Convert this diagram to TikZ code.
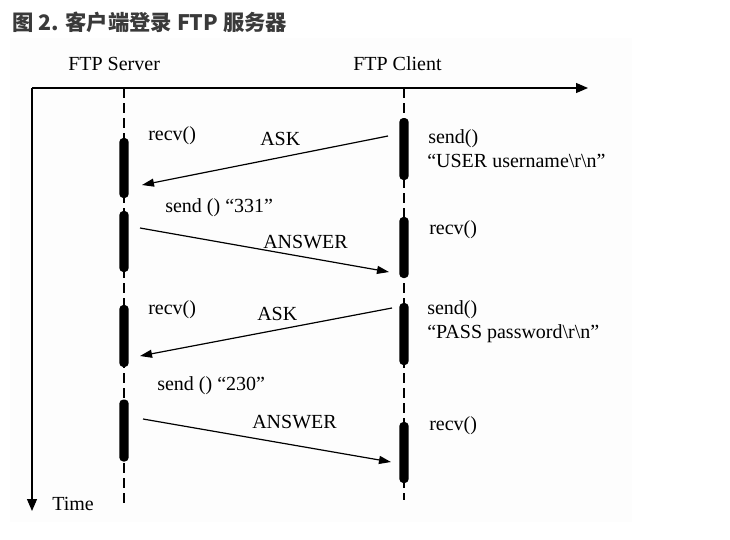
\documentclass[tikz,border=0pt]{standalone}
\usepackage{fontspec}
\setmainfont{Liberation Serif}
\newfontfamily\cjkfont{Noto Sans CJK SC}
\usetikzlibrary{arrows.meta}
\definecolor{titlegray}{RGB}{58,58,58}
\definecolor{panel}{RGB}{253,253,253}
\begin{document}
\begin{tikzpicture}[x=0.75pt,y=-0.75pt,
  lbl/.style={anchor=base west,inner sep=0pt,font=\fontsize{15}{17}\selectfont},
  bar/.style={fill=black,rounded corners=3pt,minimum width=7pt,inner sep=0pt,draw=none},
  life/.style={line width=1.1pt,dash pattern=on 7.5pt off 3.75pt},
  axis/.style={line width=0.9pt,-{Triangle[length=9pt,width=7.5pt]}},
  msg/.style={line width=0.9pt,-{Triangle[length=9pt,width=6pt]}}]
\useasboundingbox (0,0) rectangle (730,539);
\fill[panel] (10,38) rectangle (632,522);
% title
\node[anchor=base west,inner sep=0pt,text=titlegray,font=\cjkfont\bfseries\fontsize{16}{18}\selectfont] (title) at (12,30) {图 2. 客户端登录 FTP 服务器};
% headers
\node[lbl] (hs) at (68,70) {FTP Server};
\node[lbl] (hc) at (353,70) {FTP Client};
% axes
\coordinate (o) at (32,88);
\coordinate (xe) at (588,88);
\coordinate (ye) at (32,511);
\draw[axis] (o) -- (xe);
\draw[axis] (o) -- (ye);
\node[lbl] (time) at (52,510) {Time};
% lifelines
\coordinate (st) at (124,88);
\coordinate (sb) at (124,508);
\coordinate (ct) at (404,88);
\coordinate (cb) at (404,500);
\draw[life] (st) -- (sb);
\draw[life] (ct) -- (cb);
% activation bars server
\node[bar,minimum height=45pt] (s1) at (124,168) {};
\node[bar,minimum height=45.75pt] (s2) at (124,241.5) {};
\node[bar,minimum height=46.5pt] (s3) at (124,336) {};
\node[bar,minimum height=46.5pt] (s4) at (124,430.5) {};
% activation bars client
\node[bar,minimum height=46.5pt] (c1) at (404,149) {};
\node[bar,minimum height=45.75pt] (c2) at (404,247.5) {};
\node[bar,minimum height=46.5pt] (c3) at (404,334) {};
\node[bar,minimum height=45.75pt] (c4) at (404,452.5) {};
% message end points
\coordinate (a1s) at (388,136);
\coordinate (a1e) at (142,185);
\coordinate (b1s) at (140,228);
\coordinate (b1e) at (389,272);
\coordinate (a2s) at (392,308);
\coordinate (a2e) at (140,356);
\coordinate (b2s) at (143,419);
\coordinate (b2e) at (391,462);
\draw[msg] (a1s) -- (a1e);
\draw[msg] (b1s) -- (b1e);
\draw[msg] (a2s) -- (a2e);
\draw[msg] (b2s) -- (b2e);
% labels
\node[lbl] (r1) at (148,140) {recv()};
\node[lbl] (k1) at (260,145) {ASK};
\node[lbl] (sc1) at (428,143) {send()};
\node[lbl] (sc1b) at (427,167) {“USER username\textbackslash r\textbackslash n”};
\node[lbl] (ss1) at (165,212) {send () “331”};
\node[lbl] (w1) at (263,248) {ANSWER};
\node[lbl] (rc1) at (429,234) {recv()};
\node[lbl] (r2) at (148,314) {recv()};
\node[lbl] (k2) at (257,320) {ASK};
\node[lbl] (sc2) at (427,314) {send()};
\node[lbl] (sc2b) at (427,338) {“PASS password\textbackslash r\textbackslash n”};
\node[lbl] (ss2) at (157,390) {send () “230”};
\node[lbl] (w2) at (252,428) {ANSWER};
\node[lbl] (rc2) at (429,430) {recv()};
\end{tikzpicture}
\end{document}
